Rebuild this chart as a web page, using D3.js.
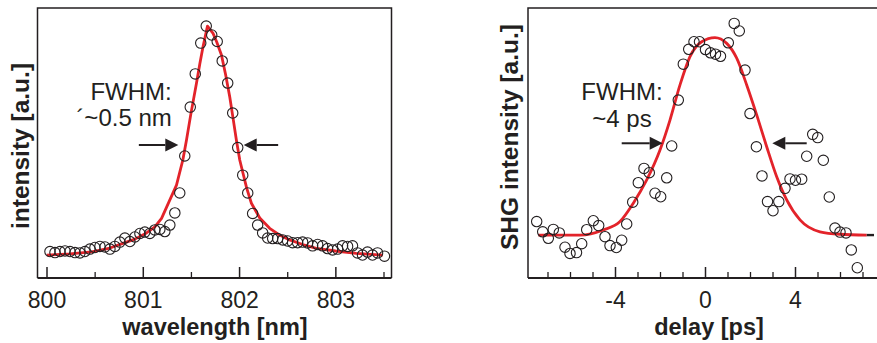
<!DOCTYPE html>
<html>
<head>
<meta charset="utf-8">
<script src="https://cdn.jsdelivr.net/npm/d3@7"></script>
<style>
  html, body { margin: 0; padding: 0; background: #fff; }
  svg { display: block; font-family: "Liberation Sans", Arial, sans-serif; }
</style>
</head>
<body>
<svg id="chart" width="877" height="343"></svg>
<script>
// ---------------- DATA ----------------
// Left panel: spectrum
const specWavelength = [800.036,800.088,800.140,800.192,800.244,800.296,800.347,800.399,800.451,800.503,800.555,800.607,800.659,800.710,800.762,800.814,800.866,800.918,800.970,801.021,801.073,801.125,801.177,801.229,801.281,801.333,801.384,801.436,801.493,801.545,801.602,801.659,801.716,801.773,801.825,801.882,801.934,801.986,802.038,802.090,802.141,802.193,802.245,802.297,802.349,802.401,802.453,802.504,802.556,802.608,802.660,802.712,802.764,802.816,802.867,802.919,802.971,803.023,803.075,803.127,803.178,803.230,803.282,803.334,803.386,803.438,803.510];
const specIntensity = [0.098,0.094,0.098,0.100,0.098,0.094,0.093,0.098,0.107,0.113,0.117,0.115,0.107,0.117,0.133,0.148,0.135,0.152,0.165,0.170,0.165,0.178,0.180,0.172,0.196,0.241,0.315,0.452,0.633,0.756,0.870,0.933,0.900,0.876,0.804,0.722,0.611,0.483,0.381,0.315,0.239,0.196,0.167,0.148,0.146,0.146,0.141,0.137,0.131,0.131,0.133,0.130,0.119,0.124,0.119,0.109,0.104,0.107,0.119,0.117,0.119,0.093,0.085,0.096,0.085,0.093,0.081];
// Left panel: fit curve
const specFitWavelength = [800.002,800.244,800.469,800.659,800.793,800.918,801.039,801.125,801.195,801.350,801.416,801.454,801.499,801.558,801.592,801.626,801.672,801.730,801.768,801.817,801.861,801.903,801.937,801.972,802.007,802.041,802.079,802.128,802.215,802.318,802.422,802.525,802.660,802.802,803.002,803.217,803.493];
const specFitIntensity = [0.085,0.089,0.097,0.111,0.128,0.144,0.167,0.189,0.221,0.344,0.437,0.511,0.607,0.722,0.793,0.857,0.933,0.906,0.874,0.826,0.752,0.671,0.593,0.511,0.437,0.388,0.333,0.277,0.222,0.184,0.159,0.141,0.124,0.110,0.100,0.091,0.085];
const specMajorTicks = [800, 801, 802, 803];
const specMinorTicks = [800.5, 801.5, 802.5, 803.5];

// Right panel: SHG autocorrelation
const shgDelay = [-7.480,-7.213,-6.964,-6.742,-6.476,-6.222,-6.000,-5.711,-5.480,-5.258,-4.964,-4.724,-4.444,-4.222,-3.942,-3.702,-3.480,-3.213,-2.964,-2.711,-2.476,-2.222,-1.969,-1.702,-1.480,-1.187,-0.964,-0.724,-0.489,-0.244,0.022,0.244,0.467,0.689,1.036,1.298,1.524,1.778,2.000,2.284,2.533,2.778,3.022,3.280,3.556,3.778,4.022,4.298,4.520,4.787,5.009,5.258,5.524,5.778,6.000,6.267,6.502,6.769];
const shgIntensity = [0.209,0.171,0.147,0.180,0.167,0.114,0.091,0.094,0.127,0.179,0.212,0.194,0.153,0.120,0.113,0.140,0.200,0.281,0.353,0.406,0.390,0.314,0.301,0.371,0.489,0.659,0.792,0.847,0.875,0.875,0.846,0.834,0.829,0.821,0.871,0.943,0.915,0.770,0.609,0.486,0.378,0.283,0.249,0.283,0.332,0.367,0.362,0.366,0.451,0.532,0.520,0.436,0.300,0.185,0.170,0.167,0.104,0.038];
const shgFitDelay = [-7.409,-5.556,-4.520,-3.778,-3.187,-2.591,-2.000,-1.556,-1.111,-0.667,-0.147,0.444,0.964,1.409,1.853,2.298,2.742,3.187,3.631,4.222,5.111,6.000,7.187];
const shgFitIntensity = [0.159,0.159,0.178,0.209,0.277,0.363,0.474,0.585,0.715,0.820,0.875,0.890,0.869,0.814,0.715,0.604,0.486,0.375,0.289,0.215,0.171,0.162,0.159];
const shgFitTailDelay = [7.187, 7.51];
const shgFitTailIntensity = [0.159, 0.159];
const shgMajorTicks = [-4, 0, 4];
const shgMinorTicks = [-7,-6,-5,-3,-2,-1,1,2,3,5,6,7];

// Annotations (data coordinates)
const specAnnot = { lines: ["FWHM:", "\u00b4~0.5 nm"], x: 801.301, y: [0.659, 0.563],
  arrowR: [800.959, 801.369], arrowL: [802.406, 802.048], arrowY: 0.4926 };
const shgAnnot = { lines: ["FWHM:", "~4 ps"], x: -3.689, y: [0.659, 0.559],
  arrowR: [-3.702, -1.880], arrowL: [4.520, 2.991], arrowY: 0.499 };

// ---------------- DRAWING ----------------
const svg = d3.select("#chart");
const ink = "#231f20";
const red = "#e3232a";

const plotTop = 8, plotBottom = 278;
const y = d3.scaleLinear().domain([0, 1]).range([plotBottom, plotTop]);

function panel(cfg) {
  const g = svg.append("g");
  const x = cfg.x;
  // frame
  g.append("path")
    .attr("d", `M${cfg.frameL},${plotBottom} V${plotTop} H${cfg.frameR} V${plotBottom}`)
    .attr("fill", "none").attr("stroke", ink).attr("stroke-width", 1.5);
  g.append("line").attr("x1", cfg.frameL).attr("x2", cfg.frameR)
    .attr("y1", plotBottom).attr("y2", plotBottom).attr("stroke", ink).attr("stroke-width", 2);

  // minor ticks
  const minorAxis = d3.axisBottom(x).tickValues(cfg.minor).tickSize(-6).tickFormat("");
  const gm = g.append("g").attr("transform", `translate(0,${plotBottom})`).call(minorAxis);
  gm.select(".domain").remove();
  gm.selectAll("line").attr("stroke", ink).attr("stroke-width", 1.3);

  const majorAxis = d3.axisBottom(x).tickValues(cfg.major).tickSize(-11).tickPadding(12)
    .tickFormat(d => String(d));
  const gM = g.append("g").attr("transform", `translate(0,${plotBottom})`).call(majorAxis);
  gM.select(".domain").remove();
  gM.selectAll("line").attr("stroke", ink).attr("stroke-width", 1.5);
  gM.selectAll("text").attr("fill", ink).attr("font-size", 23)
    .attr("font-family", "'Liberation Sans', Arial, sans-serif")
    .attr("dy", null).attr("y", 30);

  // fit line
  const line = d3.line().x(d => x(d[0])).y(d => y(d[1])).curve(cfg.curve);
  g.append("path").datum(d3.zip(cfg.fitX, cfg.fitY))
    .attr("d", line).attr("fill", "none").attr("stroke", red).attr("stroke-width", 2.8)
    .attr("stroke-linejoin", "round");
  if (cfg.tailX) {
    g.append("path").datum(d3.zip(cfg.tailX, cfg.tailY))
      .attr("d", d3.line().x(d => x(d[0])).y(d => y(d[1])))
      .attr("fill", "none").attr("stroke", ink).attr("stroke-width", 2.4);
  }

  // data circles
  g.append("g").selectAll("circle").data(d3.zip(cfg.dataX, cfg.dataY)).join("circle")
    .attr("cx", d => x(d[0])).attr("cy", d => y(d[1])).attr("r", 5.2)
    .attr("fill", "none").attr("stroke", ink).attr("stroke-width", 1.1);

  // annotation text
  const a = cfg.annot;
  a.lines.forEach((t, i) => {
    g.append("text").attr("x", x(a.x)).attr("y", y(a.y[i]))
      .attr("text-anchor", cfg.annotAnchor).attr("font-size", 24).attr("fill", ink).text(t);
  });
  // arrows
  function arrow(x0, x1) {
    const px0 = x(x0), px1 = x(x1), py = y(a.arrowY);
    const dir = px1 > px0 ? 1 : -1;
    const head = 13, half = 6.5;
    g.append("line").attr("x1", px0).attr("x2", px1 - dir * head).attr("y1", py).attr("y2", py)
      .attr("stroke", ink).attr("stroke-width", 2);
    g.append("path")
      .attr("d", `M${px1},${py} L${px1 - dir * head},${py - half} L${px1 - dir * head},${py + half} Z`)
      .attr("fill", ink);
  }
  arrow(a.arrowR[0], a.arrowR[1]);
  arrow(a.arrowL[0], a.arrowL[1]);

  // axis titles
  svg.append("text").attr("x", cfg.xTitlePos[0]).attr("y", cfg.xTitlePos[1])
    .attr("text-anchor", "middle").attr("font-weight", "bold").attr("font-size", 23.5)
    .attr("fill", ink).text(cfg.xTitle);
  svg.append("text")
    .attr("transform", `translate(${cfg.yTitlePos[0]},${cfg.yTitlePos[1]}) rotate(-90)`)
    .attr("text-anchor", "middle").attr("font-weight", "bold").attr("font-size", 24.5)
    .attr("fill", ink).text(cfg.yTitle);
}

const xSpec = d3.scaleLinear().domain([800, 803.5]).range([46.5, 383.5]);
const xShg = d3.scaleLinear().domain([-4, 4]).range([615, 795]);

panel({
  id: "L", x: xSpec, frameL: 37.5, frameR: 391.5,
  major: specMajorTicks, minor: specMinorTicks,
  fitX: specFitWavelength, fitY: specFitIntensity, curve: d3.curveLinear,
  dataX: specWavelength, dataY: specIntensity,
  annot: specAnnot, annotAnchor: "end",
  xTitle: "wavelength [nm]", xTitlePos: [215, 335],
  yTitle: "intensity [a.u.]", yTitlePos: [29, 146]
});

panel({
  id: "R", x: xShg, frameL: 528, frameR: 880,
  major: shgMajorTicks, minor: shgMinorTicks,
  fitX: shgFitDelay, fitY: shgFitIntensity, curve: d3.curveMonotoneX,
  tailX: shgFitTailDelay, tailY: shgFitTailIntensity,
  dataX: shgDelay, dataY: shgIntensity,
  annot: shgAnnot, annotAnchor: "middle",
  xTitle: "delay [ps]", xTitlePos: [709, 335],
  yTitle: "SHG intensity [a.u.]", yTitlePos: [518, 137]
});
</script>
</body>
</html>
